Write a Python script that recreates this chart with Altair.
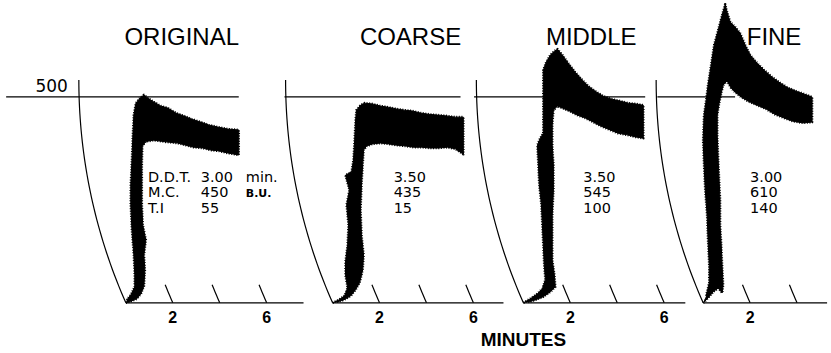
import math
import altair as alt
import pandas as pd

# ---------------------------------------------------------------------------
# Farinograms of the original flour and three particle-size fractions.
# Each band outline is the pen trace on the chart paper: minutes measured
# along the paper from the start line, and consistency in Brabender units.
# ---------------------------------------------------------------------------
PANEL_NAMES = ["ORIGINAL", "COARSE", "MIDDLE", "FINE"]

ORIGINAL_MIN = [0.00, 0.26, 0.47, 0.64, 0.77, 0.81, 0.77, 0.85, 0.72, 0.68,
                0.68, 0.68, 0.70, 0.85, 1.19, 1.70, 2.21, 2.55, 2.89, 3.28,
                3.62, 3.96, 4.34, 4.81, 4.81, 4.34, 3.91, 3.53, 3.19, 2.81,
                2.47, 2.13, 1.79, 1.49, 1.19, 0.94, 0.77, 0.60, 0.43, 0.34,
                0.30, 0.26, 0.21, 0.21, 0.26, 0.34, 0.38, 0.38, 0.21, 0.04]
ORIGINAL_BU = [0, 5, 10, 22, 41, 80, 116, 153, 189, 238,
               286, 335, 380, 392, 395, 391, 388, 383, 378, 376,
               371, 369, 364, 359, 420, 422, 427, 432, 439, 446,
               454, 461, 473, 478, 488, 497, 505, 497, 485, 456,
               408, 347, 286, 238, 177, 116, 68, 39, 19, 7]

COARSE_MIN = [0.00, 0.26, 0.51, 0.64, 0.55, 0.55, 0.64, 0.68, 0.60, 0.72,
              0.55, 0.81, 0.89, 0.94, 0.98, 1.02, 1.19, 1.36, 1.70, 2.04,
              2.38, 2.72, 3.06, 3.40, 3.74, 4.09, 4.47, 4.85, 5.23, 5.57,
              5.57, 5.23, 4.89, 4.51, 4.17, 3.79, 3.45, 3.11, 2.72, 2.38,
              2.04, 1.70, 1.45, 1.32, 1.28, 1.23, 1.19, 1.23, 1.32, 1.28,
              1.15, 0.98, 0.77, 0.47, 0.17]
COARSE_BU = [0, 7, 17, 36, 68, 99, 141, 189, 238, 274,
             310, 318, 347, 395, 444, 468, 480, 485, 483, 478,
             475, 471, 468, 466, 461, 458, 456, 454, 451, 451,
             361, 374, 378, 376, 376, 378, 378, 381, 383, 386,
             388, 386, 381, 371, 335, 286, 226, 165, 116, 80,
             49, 32, 17, 7, 2]

MIDDLE_MIN = [0.00, 0.30, 0.60, 0.81, 0.94, 0.89, 0.85, 0.81, 0.77, 0.68,
              0.64, 0.60, 0.72, 0.85, 0.85, 0.85, 0.85, 0.98, 1.15, 1.32,
              1.45, 1.66, 1.91, 2.21, 2.51, 2.77, 3.06, 3.40, 3.74, 4.13,
              4.47, 4.81, 5.11, 5.11, 4.77, 4.43, 4.04, 3.70, 3.32, 2.98,
              2.64, 2.30, 1.96, 1.66, 1.45, 1.28, 1.23, 1.23, 1.28, 1.28,
              1.23, 1.23, 1.23, 1.32, 1.36, 1.15, 0.85, 0.51, 0.21]
MIDDLE_BU = [0, 10, 22, 34, 56, 92, 141, 189, 238, 286,
             335, 383, 400, 412, 468, 529, 565, 585, 602, 611,
             616, 602, 582, 560, 541, 526, 514, 502, 495, 490,
             485, 483, 480, 400, 403, 408, 412, 420, 429, 439,
             449, 456, 466, 473, 478, 468, 432, 383, 335, 274,
             213, 153, 104, 68, 39, 27, 15, 7, 2]

FINE_MIN = [0.00, 0.21, 0.43, 0.64, 0.81, 0.85, 0.81, 0.77, 0.72, 0.72,
            0.68, 0.64, 0.60, 0.60, 0.68, 0.77, 0.85, 1.02, 1.19, 1.36,
            1.62, 1.91, 2.30, 2.68, 3.06, 3.45, 3.83, 4.26, 4.64, 4.64,
            4.30, 3.96, 3.62, 3.28, 2.94, 2.60, 2.30, 2.00, 1.79, 1.57,
            1.36, 1.15, 1.02, 0.94, 0.81, 0.64, 0.47, 0.34, 0.21, 0.13,
            0.04, 0.00, 0.04, 0.09, 0.17, 0.21, 0.26, 0.26, 0.13]
FINE_BU = [0, 12, 27, 36, 24, 44, 87, 141, 189, 250,
           298, 347, 408, 456, 485, 509, 529, 539, 522, 512,
           500, 490, 480, 471, 458, 449, 441, 437, 439, 500,
           507, 514, 522, 534, 548, 565, 582, 602, 626, 655,
           670, 682, 706, 725, 699, 662, 626, 577, 529, 492,
           456, 395, 335, 274, 213, 153, 92, 49, 17]

CURVES_MIN = [ORIGINAL_MIN, COARSE_MIN, MIDDLE_MIN, FINE_MIN]
CURVES_BU = [ORIGINAL_BU, COARSE_BU, MIDDLE_BU, FINE_BU]

STAT_NAMES = ["D.D.T.", "M.C.", "T.I"]
DDT_MIN = ["3.00", "3.50", "3.50", "3.00"]
MC_BU = ["450", "435", "545", "610"]
TI_BU = ["55", "15", "100", "140"]

REF_LINE_BU = 500
TICK_MINUTES = [[2, 4, 6], [2, 4, 6], [2, 4, 6], [2, 4]]
TICK_LABELS = [[2, 6], [2, 6], [2, 6], [2]]

# ---------------------------------------------------------------------------
# Layout: every panel uses the same paper scale (px per minute / per B.U.)
# ---------------------------------------------------------------------------
PX_PER_MIN = 23.5
PLOT_H = 303
BU_MAX = 735
PX_PER_BU = PLOT_H / BU_MAX
PANEL_W = [207, 191, 180, 178]
LEFT_PX = 50                      # room left of the start line for the arc
BASELINE_END = [7.57, 7.28, 6.90, 5.28]
REF_LINE_SPAN = [(-5.10, 4.81), (-2.05, 5.45), (-2.10, 5.19), (-1.95, 1.36)]
TITLE_AT = [2.38, 3.32, 2.89, 3.02]
TITLE_BU = 626
VALUE_COL = [3.19, 2.60, 2.55, 2.00]
NAME_COL = 0.94
UNIT_COL = 5.11
ROW_BU = [293, 257, 218]
TICK_LABEL_BU = -48
AXIS_TITLE_BU = -105

# recorder pen arm: the time lines on the paper are arcs of this radius
ARC_RADIUS_PX = 552
ARC_TOP_BU = 541
TICK_TOP_BU = 44

SANS = "Liberation Sans"
WIDE = "DejaVu Sans"


def arc_shift(bu):
    """Horizontal offset (minutes) of the pen arc at height bu."""
    r2 = ARC_RADIUS_PX ** 2
    dy = (ARC_TOP_BU - bu) * PX_PER_BU
    dy0 = ARC_TOP_BU * PX_PER_BU
    return (math.sqrt(r2 - dy0 ** 2) - math.sqrt(r2 - dy ** 2)) / PX_PER_MIN


def arc_rows(k):
    rows = []
    steps = 40
    for j in range(steps + 1):
        bu = ARC_TOP_BU * j / steps
        rows.append({"arc": "start", "i": j, "t": arc_shift(bu), "bu": bu})
    for m in TICK_MINUTES[k]:
        for j in range(6):
            bu = TICK_TOP_BU * j / 5
            rows.append({"arc": f"m{m}", "i": j, "t": m + arc_shift(bu), "bu": bu})
    return pd.DataFrame(rows)


def text_layer(df, x, y, **style):
    return alt.Chart(df).mark_text(
        color="black", baseline="alphabetic", **style
    ).encode(x=x, y=y, text="text:N")


def panel(k):
    w = PANEL_W[k]
    xs = alt.Scale(domain=[-LEFT_PX / PX_PER_MIN, (w - LEFT_PX) / PX_PER_MIN],
                   nice=False, zero=False)
    ys = alt.Scale(domain=[0, BU_MAX], nice=False, zero=False)
    x = alt.X("t:Q", scale=xs, axis=None)
    y = alt.Y("bu:Q", scale=ys, axis=None)

    band = pd.DataFrame({"t": CURVES_MIN[k], "bu": CURVES_BU[k]})
    band["i"] = range(len(band))
    band_fill = alt.Chart(band).mark_line(
        fill="black", stroke="black", strokeWidth=1, strokeJoin="round"
    ).encode(x=x, y=y, order="i:Q")
    # frayed rim of the oscillating pen trace
    band_rim = alt.Chart(band).mark_line(
        stroke="black", strokeWidth=2.6, strokeDash=[1, 1.6], strokeJoin="round"
    ).encode(x=x, y=y, order="i:Q")

    arcs = alt.Chart(arc_rows(k)).mark_line(
        stroke="black", strokeWidth=1.2
    ).encode(x=x, y=y, detail="arc:N", order="i:Q")

    lines = pd.DataFrame({
        "t": [0, REF_LINE_SPAN[k][0]],
        "t2": [BASELINE_END[k], REF_LINE_SPAN[k][1]],
        "bu": [0, REF_LINE_BU],
    })
    rules = alt.Chart(lines).mark_rule(color="black", strokeWidth=1.3).encode(
        x=x, x2="t2:Q", y=y)

    title = text_layer(
        pd.DataFrame({"t": [TITLE_AT[k]], "bu": [TITLE_BU], "text": [PANEL_NAMES[k]]}),
        x, y, font=SANS, fontSize=24, align="center")

    values = text_layer(
        pd.DataFrame({"t": [VALUE_COL[k]] * 3, "bu": ROW_BU,
                      "text": [DDT_MIN[k], MC_BU[k], TI_BU[k]]}),
        x, y, font=WIDE, fontSize=14.5, align="left")

    ticks = text_layer(
        pd.DataFrame({"t": TICK_LABELS[k], "bu": [TICK_LABEL_BU] * len(TICK_LABELS[k]),
                      "text": [str(v) for v in TICK_LABELS[k]]}),
        x, y, font=SANS, fontSize=16, fontWeight="bold", align="center")

    layers = [rules, arcs, band_fill, band_rim, title, values, ticks]

    if k == 0:
        layers.append(text_layer(
            pd.DataFrame({"t": [NAME_COL] * 3, "bu": ROW_BU, "text": STAT_NAMES}),
            x, y, font=WIDE, fontSize=14.5, align="left"))
        layers.append(text_layer(
            pd.DataFrame({"t": [UNIT_COL], "bu": [ROW_BU[0]], "text": ["min."]}),
            x, y, font=WIDE, fontSize=14.5, align="left"))
        layers.append(text_layer(
            pd.DataFrame({"t": [UNIT_COL], "bu": [ROW_BU[1]], "text": ["B.U."]}),
            x, y, font=WIDE, fontSize=11, fontWeight="bold", align="left"))
        layers.append(text_layer(
            pd.DataFrame({"t": [-2.47], "bu": [512], "text": [str(REF_LINE_BU)]}),
            x, y, font=WIDE, fontSize=17, align="right"))
    if k == 2:
        layers.append(text_layer(
            pd.DataFrame({"t": [0.0], "bu": [AXIS_TITLE_BU], "text": ["MINUTES"]}),
            x, y, font=SANS, fontSize=19, fontWeight="bold", align="center"))

    return alt.layer(*layers).properties(width=w, height=PLOT_H)


chart = alt.hconcat(
    *[panel(k) for k in range(4)], spacing=0, bounds="flush"
).properties(
    padding={"left": 5, "top": 0, "right": 0, "bottom": 0},
    background="white",
).configure_view(stroke=None)

chart.save("out.html", embed_options={"renderer": "svg", "actions": False})
